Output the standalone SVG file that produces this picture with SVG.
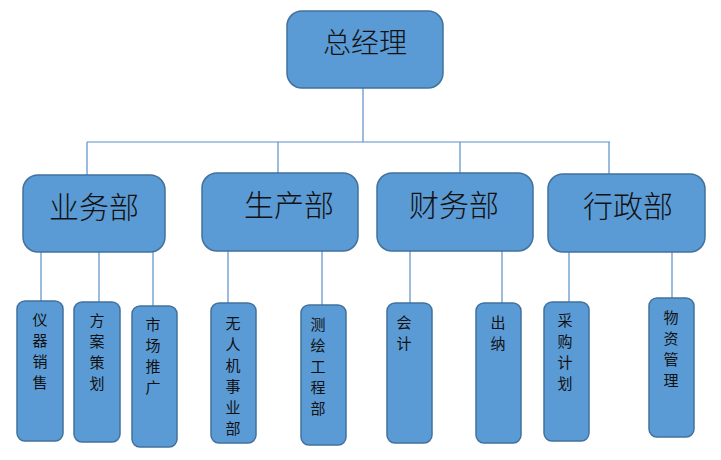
<svg xmlns="http://www.w3.org/2000/svg" width="721" height="460" viewBox="0 0 721 460">
<style>
.box{fill:#5B9BD5;stroke:#41719C;stroke-width:1.5}
.ln{stroke:#5B8FC7;stroke-width:1.2;fill:none}
.t1{font-family:"Noto Sans CJK SC","Noto Sans",sans-serif;font-size:28px;font-weight:300;fill:#111;text-anchor:middle;dominant-baseline:central}
.t2{font-family:"Noto Sans CJK SC","Noto Sans",sans-serif;font-size:30px;font-weight:300;fill:#111;text-anchor:middle;dominant-baseline:central}
.t3{font-family:"Noto Sans CJK SC","Noto Sans",sans-serif;font-size:15px;fill:#111;text-anchor:middle;dominant-baseline:central}
</style>
<rect width="721" height="460" fill="#fff"/>
<g id="connectors">
<path class="ln" d="M363 88V142M87 142H610M87 142V175M278 142V173M460 142V173M609 142V174"/>
<path class="ln" d="M41 252V301M99 252V302M153 252V306M228 251V303M322 251V305M410 251V303M502 251V303M569 252V302M672 252V298"/>
</g>
<g id="n-zjl"><rect class="box" x="287" y="11" width="156" height="77" rx="15"/><text class="t1" x="365" y="41">总经理</text></g>
<g id="n-ywb"><rect class="box" x="23" y="175" width="142" height="77" rx="15"/><text class="t2" x="94" y="205">业务部</text></g>
<g id="n-scb"><rect class="box" x="202" y="173" width="156" height="78" rx="15"/><text class="t2" x="289" y="203">生产部</text></g>
<g id="n-cwb"><rect class="box" x="377" y="173" width="156" height="78" rx="15"/><text class="t2" x="454" y="203">财务部</text></g>
<g id="n-xzb"><rect class="box" x="548" y="174" width="157" height="78" rx="15"/><text class="t2" x="628" y="204">行政部</text></g>
<g id="n-yqxs"><rect class="box" x="17" y="301" width="46" height="140" rx="8"/><text class="t3" x="40"><tspan x="40" y="318">仪</tspan><tspan x="40" y="339">器</tspan><tspan x="40" y="360">销</tspan><tspan x="40" y="381">售</tspan></text></g>
<g id="n-facc"><rect class="box" x="74" y="302" width="46" height="140" rx="8"/><text class="t3"><tspan x="97" y="319">方</tspan><tspan x="97" y="340">案</tspan><tspan x="97" y="361">策</tspan><tspan x="97" y="382">划</tspan></text></g>
<g id="n-sctg"><rect class="box" x="132" y="306" width="45" height="141" rx="8"/><text class="t3"><tspan x="153" y="323">市</tspan><tspan x="153" y="344">场</tspan><tspan x="153" y="365">推</tspan><tspan x="153" y="386">广</tspan></text></g>
<g id="n-wrj"><rect class="box" x="211" y="303" width="45" height="140" rx="8"/><text class="t3"><tspan x="233" y="322">无</tspan><tspan x="233" y="343">人</tspan><tspan x="233" y="364">机</tspan><tspan x="233" y="385">事</tspan><tspan x="233" y="406">业</tspan><tspan x="233" y="427">部</tspan></text></g>
<g id="n-chgc"><rect class="box" x="301" y="305" width="45" height="140" rx="8"/><text class="t3"><tspan x="318" y="323">测</tspan><tspan x="318" y="344">绘</tspan><tspan x="318" y="365">工</tspan><tspan x="318" y="386">程</tspan><tspan x="318" y="407">部</tspan></text></g>
<g id="n-kj"><rect class="box" x="387" y="303" width="45" height="140" rx="8"/><text class="t3"><tspan x="404" y="321">会</tspan><tspan x="404" y="342">计</tspan></text></g>
<g id="n-cn"><rect class="box" x="476" y="303" width="45" height="140" rx="8"/><text class="t3"><tspan x="498" y="321">出</tspan><tspan x="498" y="342">纳</tspan></text></g>
<g id="n-cgjh"><rect class="box" x="544" y="302" width="45" height="139" rx="8"/><text class="t3"><tspan x="565" y="319">采</tspan><tspan x="565" y="340">购</tspan><tspan x="565" y="361">计</tspan><tspan x="565" y="382">划</tspan></text></g>
<g id="n-wzgl"><rect class="box" x="649" y="298" width="45" height="139" rx="8"/><text class="t3"><tspan x="671" y="316">物</tspan><tspan x="671" y="337">资</tspan><tspan x="671" y="358">管</tspan><tspan x="671" y="379">理</tspan></text></g>
</svg>
